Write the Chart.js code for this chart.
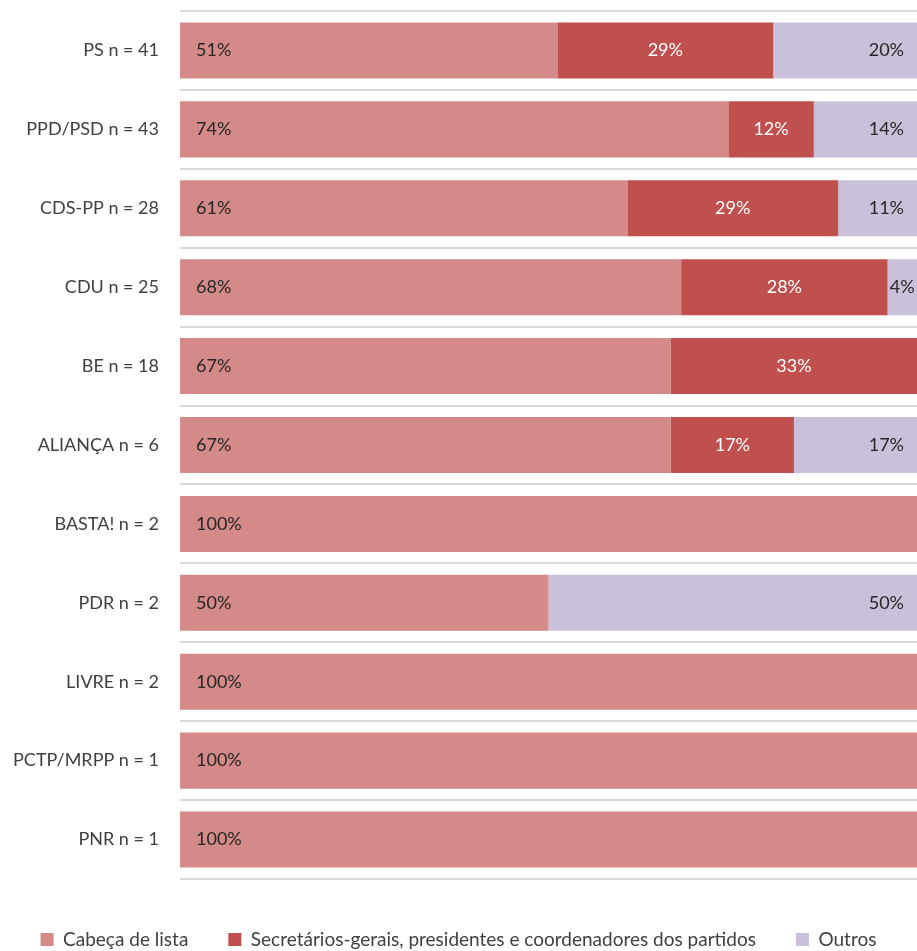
<!DOCTYPE html>
<html>
<head>
<meta charset="utf-8">
<style>
  html, body { margin: 0; padding: 0; background: #fff; }
  #wrap { width: 917px; height: 951px; }
</style>
<script src="https://cdn.jsdelivr.net/npm/chart.js@4"></script>
</head>
<body>
<div id="wrap"><canvas id="grafico-partidos"></canvas></div>
<script>
// Categorias (partidos)
var partidos = [
  "PS n = 41",
  "PPD/PSD n = 43",
  "CDS-PP n = 28",
  "CDU n = 25",
  "BE n = 18",
  "ALIANÇA n = 6",
  "BASTA! n = 2",
  "PDR n = 2",
  "LIVRE n = 2",
  "PCTP/MRPP n = 1",
  "PNR n = 1",
];

// Percentagens por série
var dadosCabecaLista = [51.2, 74.4, 60.7, 68, 66.6, 66.6, 100, 50, 100, 100, 100];
var dadosSecretarios = [29.3, 11.6, 28.6, 28, 33.4, 16.7, 0, 0, 0, 0, 0];
var dadosOutros = [19.5, 14.0, 10.7, 4, 0, 16.7, 0, 50, 0, 0, 0];

var fonte = "Lato, 'Open Sans', sans-serif";

// Etiquetas dentro das barras
var etiquetasBarras = {
  id: "etiquetasBarras",
  afterDatasetsDraw: function (chart) {
    var ctx = chart.ctx;
    ctx.save();
    ctx.font = "18px " + fonte;
    ctx.textBaseline = "middle";
    chart.data.datasets.forEach(function (ds, i) {
      var meta = chart.getDatasetMeta(i);
      meta.data.forEach(function (bar, j) {
        var v = ds.data[j];
        if (!v) return;
        var txt = Math.round(v) + "%";
        var x0 = Math.min(bar.base, bar.x);
        var x1 = Math.max(bar.base, bar.x);
        var w = ctx.measureText(txt).width;
        if (i === 0) {
          ctx.fillStyle = "#262626";
          ctx.textAlign = "left";
          ctx.fillText(txt, x0 + 16, bar.y);
        } else if (i === 1) {
          ctx.fillStyle = "#ffffff";
          ctx.textAlign = "center";
          ctx.fillText(txt, (x0 + x1) / 2, bar.y);
        } else {
          var pad = Math.min(13, Math.max(1, (x1 - x0 - w) / 2));
          ctx.fillStyle = "#262626";
          ctx.textAlign = "right";
          ctx.fillText(txt, x1 - pad, bar.y);
        }
      });
    });
    ctx.restore();
  },
};

// Altura fixa da legenda
var ajusteLegenda = {
  id: "ajusteLegenda",
  beforeInit: function (chart) {
    var fitOriginal = chart.legend.fit;
    chart.legend.fit = function () {
      fitOriginal.bind(chart.legend)();
      this.height = 61;
    };
  },
};

var grafico = document.getElementById("grafico-partidos").getContext("2d");

new Chart(grafico, {
  type: "bar",
  data: {
    labels: partidos,
    datasets: [
      {
        label: "Cabeça de lista",
        backgroundColor: "#D48A88",
        borderWidth: 0,
        data: dadosCabecaLista,
      },
      {
        label: "Secretários-gerais, presidentes e coordenadores dos partidos",
        backgroundColor: "#C0504D",
        borderWidth: 0,
        data: dadosSecretarios,
      },
      {
        label: "Outros",
        backgroundColor: "#CBC0DA",
        borderWidth: 0,
        data: dadosOutros,
      },
    ],
  },
  plugins: [etiquetasBarras, ajusteLegenda],
  options: {
    indexAxis: "y",
    responsive: true,
    maintainAspectRatio: false,
    animation: false,
    categoryPercentage: 1,
    barPercentage: 0.71,
    layout: {
      padding: { top: 11, left: 0, right: 0, bottom: 0 },
    },
    plugins: {
      tooltip: { enabled: false },
      legend: {
        display: true,
        position: "bottom",
        labels: {
          boxWidth: 13,
          boxHeight: 13,
          padding: 40,
          color: "#404040",
          font: { family: fonte, size: 19 },
        },
      },
    },
    scales: {
      x: {
        stacked: true,
        min: 0,
        max: 100,
        display: true,
        ticks: { display: false },
        grid: { display: false },
        border: { display: false },
        afterFit: function (scale) {
          scale.height = 11;
        },
      },
      y: {
        stacked: true,
        offset: true,
        grid: {
          offset: true,
          drawTicks: false,
          color: "#d9d9d9",
          lineWidth: 2,
        },
        border: { display: false },
        ticks: {
          padding: 21,
          color: "#404040",
          font: { family: fonte, size: 18 },
        },
        afterFit: function (scale) {
          scale.width = 180;
          scale.paddingTop = 0;
          scale.paddingBottom = 0;
        },
      },
    },
  },
});
</script>
</body>
</html>
